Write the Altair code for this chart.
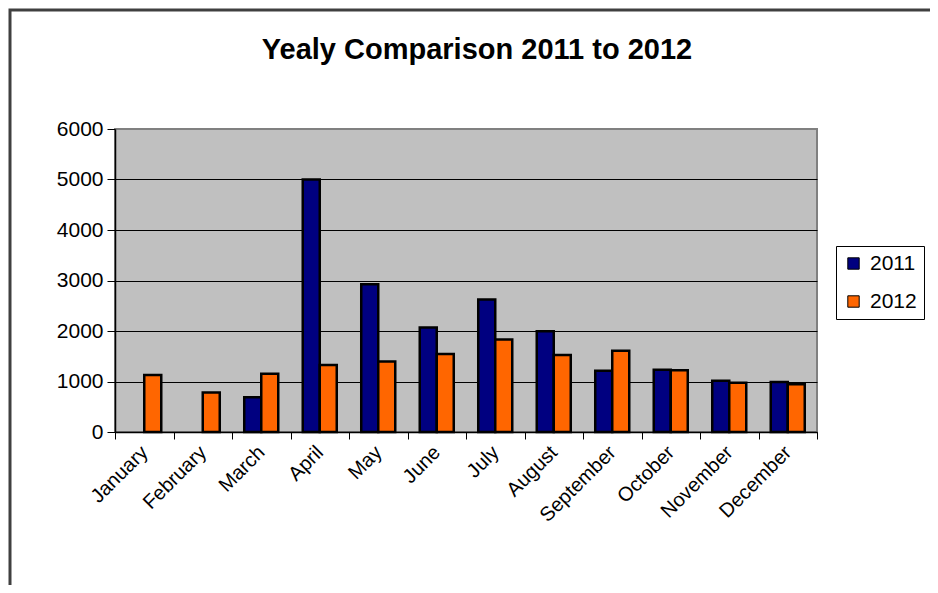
import altair as alt
import pandas as pd

months = ["January", "February", "March", "April", "May", "June", "July",
          "August", "September", "October", "November", "December"]
years = ["2011", "2012"]
values_2011 = [None, None, 690, 5000, 2925, 2070, 2625, 1995, 1215, 1235, 1015, 990]
values_2012 = [1130, 780, 1155, 1325, 1395, 1545, 1830, 1525, 1610, 1225, 975, 945]
y_ticks = [0, 1000, 2000, 3000, 4000, 5000, 6000]
colors = ["#000080", "#FF6600"]
title_text = "Yealy Comparison 2011 to 2012"

rows = []
for m, a, b in zip(months, values_2011, values_2012):
    if a is not None:
        rows.append({"month": m, "year": "2011", "value": a})
    if b is not None:
        rows.append({"month": m, "year": "2012", "value": b})
df = pd.DataFrame(rows)

FONT = "Liberation Sans"

bars = alt.Chart(df).mark_bar(stroke="black", strokeWidth=2.5).encode(
    x=alt.X("month:N", sort=months,
            scale=alt.Scale(domain=months, paddingInner=0, paddingOuter=0),
            axis=alt.Axis(title=None, labelAngle=-45, labelAlign="right",
                          labelBaseline="middle", labelFontSize=20, labelFont=FONT,
                          labelColor="black", labelPadding=10, tickBand="extent",
                          tickSize=7, tickColor="black", domainColor="black",
                          domainWidth=1.5, grid=False)),
    xOffset=alt.XOffset("year:N",
                        scale=alt.Scale(domain=years, paddingInner=0, paddingOuter=0.72)),
    y=alt.Y("value:Q", scale=alt.Scale(domain=[0, 6000], nice=False),
            axis=alt.Axis(title=None, values=y_ticks, format="d", labelFontSize=21,
                          labelFont=FONT, labelColor="black", labelPadding=4, tickSize=8,
                          tickColor="black", domainColor="black", domainWidth=1.5,
                          grid=True,
                          gridColor={"condition": {"test": "datum.value === 6000",
                                                   "value": "#808080"},
                                     "value": "black"},
                          gridWidth=1)),
    color=alt.Color("year:N", scale=alt.Scale(domain=years, range=colors),
                    legend=alt.Legend(title=None, orient="none", legendX=721, legendY=117,
                                      direction="vertical", labelFontSize=21,
                                      labelFont=FONT, labelColor="black",
                                      symbolType="square", symbolSize=130,
                                      symbolStrokeColor="black", symbolStrokeWidth=1,
                                      symbolOpacity=1, strokeColor="black",
                                      fillColor="white", padding=7, rowPadding=16,
                                      labelOffset=6)),
)

one = pd.DataFrame({"t": [title_text]})

border = alt.Chart(one).mark_rect(
    fillOpacity=0, stroke="#404040", strokeWidth=3
).encode(
    x=alt.value(-105), x2=alt.value(818), y=alt.value(-119), y2=alt.value(470)
)

title = alt.Chart(one).mark_text(
    font=FONT, fontSize=29, fontWeight="bold", color="black",
    align="center", baseline="alphabetic"
).encode(
    text="t:N", x=alt.value(362), y=alt.value(-70)
)

chart = alt.layer(bars, border, title).properties(
    width=702, height=303,
    padding={"left": 107, "top": 121, "right": 113, "bottom": 153},
    autosize=alt.AutoSizeParams(type="none"),
    background="white",
).configure_view(
    fill="#C0C0C0", stroke="#808080", strokeWidth=2
)

chart.save("out.html", embed_options={"renderer": "svg", "actions": False})
